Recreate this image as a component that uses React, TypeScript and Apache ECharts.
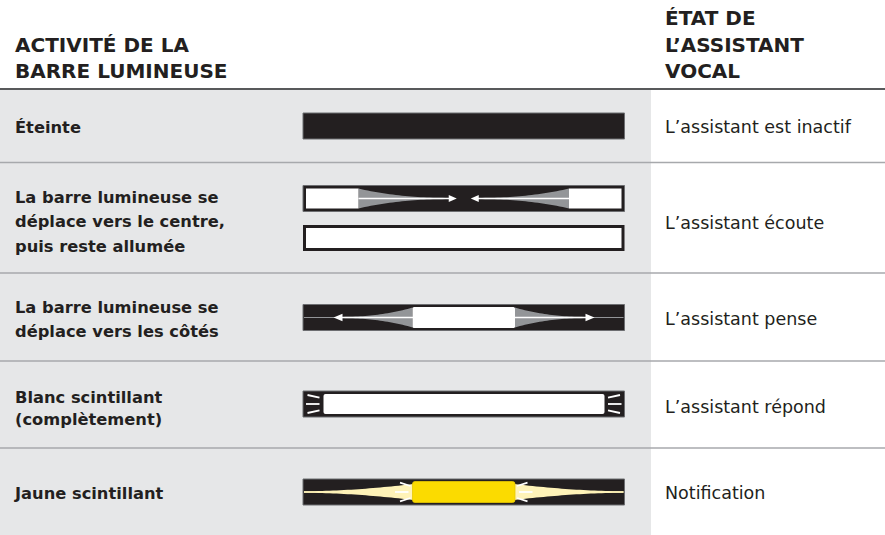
import React, { useEffect, useRef } from "react";
import * as echarts from "echarts";

// ---- Content (table texts) ----
const headerLeft = ["ACTIVITÉ DE LA", "BARRE LUMINEUSE"];
const headerRight = ["ÉTAT DE", "L’ASSISTANT", "VOCAL"];
const activities: string[][] = [
  ["Éteinte"],
  ["La barre lumineuse se", "déplace vers le centre,", "puis reste allumée"],
  ["La barre lumineuse se", "déplace vers les côtés"],
  ["Blanc scintillant", "(complètement)"],
  ["Jaune scintillant"],
];
const states = [
  "L’assistant est inactif",
  "L’assistant écoute",
  "L’assistant pense",
  "L’assistant répond",
  "Notification",
];

// ---- Layout ----
const W = 885;
const H = 535;
const GRAY_RIGHT = 651;
const HEADER_SEP = 89;
const ROW_SEPS = [162.5, 273, 361, 448];
const LEFT_TEXT_CENTERS = [[127], [197, 221.5, 246], [307.5, 331], [397, 419.5], [493]];
const RIGHT_TEXT_CENTERS = [127, 223, 319, 407, 493];
const BX0 = 303;
const BX1 = 624.5;
const BH = 26;

const C_BG = "#e6e7e8";
const C_DARK = "#231f20";
const C_GRAY = "#939598";
const C_YEL = "#fbdb00";
const C_PALE = "#fff3b8";
const FONT = "DejaVu Sans";

function funnel(xs: number, xe: number, cy: number, h0: number, h1: number, p = 2.3, n = 30) {
  const top: number[][] = [];
  const bot: number[][] = [];
  for (let i = 0; i <= n; i++) {
    const t = i / n;
    const x = xs + (xe - xs) * t;
    const h = h1 + (h0 - h1) * Math.pow(1 - t, p);
    top.push([x, cy - h / 2]);
    bot.unshift([x, cy + h / 2]);
  }
  return top.concat(bot);
}

function blackBar(y: number) {
  return {
    type: "rect",
    shape: { x: BX0, y, width: BX1 - BX0, height: BH },
    style: { fill: C_DARK, stroke: "#6d6e71", lineWidth: 1 },
  };
}

function line(x1: number, y1: number, x2: number, y2: number, stroke: string, lw: number) {
  return { type: "line", shape: { x1, y1, x2, y2 }, style: { stroke, lineWidth: lw } };
}

function tri(pts: number[][], fill: string) {
  return { type: "polygon", shape: { points: pts }, style: { fill } };
}

function buildGraphics() {
  const els: any[] = [];
  // backgrounds
  els.push({ type: "rect", shape: { x: 0, y: HEADER_SEP, width: GRAY_RIGHT, height: H - HEADER_SEP }, style: { fill: C_BG } });
  // separators
  els.push(line(0, HEADER_SEP, W, HEADER_SEP, "#58595b", 2));
  ROW_SEPS.forEach((y) => els.push(line(0, y, W, y, "#a7a9ac", 1.5)));

  // header texts
  const hLeftC = [44.5, 70.5];
  headerLeft.forEach((t, i) =>
    els.push({ type: "text", x: 15, y: hLeftC[i], style: { text: t, fill: C_DARK, font: `bold 20px '${FONT}'`, verticalAlign: "middle", align: "left" } })
  );
  const hRightC = [18, 44.5, 70.5];
  headerRight.forEach((t, i) =>
    els.push({ type: "text", x: 665, y: hRightC[i], style: { text: t, fill: C_DARK, font: `bold 20px '${FONT}'`, verticalAlign: "middle", align: "left" } })
  );

  // row texts
  activities.forEach((lines, r) =>
    lines.forEach((t, i) =>
      els.push({ type: "text", x: 15, y: LEFT_TEXT_CENTERS[r][i], style: { text: t, fill: C_DARK, font: `bold 16.3px '${FONT}'`, verticalAlign: "middle", align: "left" } })
    )
  );
  states.forEach((t, r) =>
    els.push({ type: "text", x: 665, y: RIGHT_TEXT_CENTERS[r], style: { text: t, fill: C_DARK, font: `17.5px '${FONT}'`, verticalAlign: "middle", align: "left" } })
  );

  const mid = (BX0 + BX1) / 2;

  // Row 1: off
  els.push(blackBar(113));

  // Row 2a: moving to center
  {
    const y = 185.5;
    const cy = y + BH / 2;
    els.push(blackBar(y));
    els.push({ type: "polygon", shape: { points: funnel(358.5, mid - 12, cy, 20, 1.2) }, style: { fill: C_GRAY } });
    els.push({ type: "polygon", shape: { points: funnel(569, mid + 12, cy, 20, 1.2) }, style: { fill: C_GRAY } });
    els.push({ type: "rect", shape: { x: 306, y: y + 3, width: 52.5, height: BH - 6 }, style: { fill: "#fff" } });
    els.push({ type: "rect", shape: { x: 569, y: y + 3, width: 52.5, height: BH - 6 }, style: { fill: "#fff" } });
    els.push(line(358.5, cy, mid - 13, cy, "#fff", 1.6));
    els.push(line(569, cy, mid + 13, cy, "#fff", 1.6));
    els.push(tri([[mid - 15, cy - 3.6], [mid - 7, cy], [mid - 15, cy + 3.6]], "#fff"));
    els.push(tri([[mid + 15, cy - 3.6], [mid + 7, cy], [mid + 15, cy + 3.6]], "#fff"));
  }
  // Row 2b: stays on
  els.push({ type: "rect", shape: { x: BX0 + 1.5, y: 226.5, width: BX1 - BX0 - 3, height: BH - 3 }, style: { fill: "#fff", stroke: C_DARK, lineWidth: 3 } });

  // Row 3: moving to sides
  {
    const y = 304.5;
    const cy = y + BH / 2;
    els.push(blackBar(y));
    els.push(line(BX0 + 1, cy, BX1 - 1, cy, C_GRAY, 1.2));
    els.push({ type: "polygon", shape: { points: funnel(412.5, 338, cy, 20, 1.2) }, style: { fill: C_GRAY } });
    els.push({ type: "polygon", shape: { points: funnel(515, 589, cy, 20, 1.2) }, style: { fill: C_GRAY } });
    els.push(line(341, cy, 413, cy, "#fff", 1.6));
    els.push(line(515, cy, 587, cy, "#fff", 1.6));
    els.push(tri([[342.5, cy - 3.8], [333.5, cy], [342.5, cy + 3.8]], "#fff"));
    els.push(tri([[585.5, cy - 3.8], [594.5, cy], [585.5, cy + 3.8]], "#fff"));
    els.push({ type: "rect", shape: { x: 412.5, y: y + 2.5, width: 102.5, height: BH - 5, r: 1.5 }, style: { fill: "#fff" } });
  }

  // Row 4: white flashing
  {
    const y = 391;
    const cy = y + BH / 2;
    els.push(blackBar(y));
    els.push({ type: "rect", shape: { x: 323.5, y: y + 3, width: 281, height: BH - 6, r: 2 }, style: { fill: "#fff" } });
    const lw = 1.8;
    els.push(line(307.5, cy - 9, 319.5, cy - 6.3, "#fff", lw));
    els.push(line(306, cy, 319.5, cy, "#fff", lw));
    els.push(line(307.5, cy + 9, 319.5, cy + 6.3, "#fff", lw));
    els.push(line(2 * mid - 307.5, cy - 9, 2 * mid - 319.5, cy - 6.3, "#fff", lw));
    els.push(line(2 * mid - 306, cy, 2 * mid - 319.5, cy, "#fff", lw));
    els.push(line(2 * mid - 307.5, cy + 9, 2 * mid - 319.5, cy + 6.3, "#fff", lw));
  }

  // Row 5: yellow flashing
  {
    const y = 479;
    const cy = y + BH / 2;
    els.push(blackBar(y));
    els.push(line(BX0 + 1, cy, BX1 - 1, cy, C_PALE, 1.4));
    els.push({ type: "polygon", shape: { points: funnel(413, BX0 + 1, cy, 16, 1.5, 1.8) }, style: { fill: C_PALE } });
    els.push({ type: "polygon", shape: { points: funnel(514.5, BX1 - 1, cy, 16, 1.5, 1.8) }, style: { fill: C_PALE } });
    els.push({ type: "rect", shape: { x: 412.5, y: y + 2.5, width: 102.5, height: BH - 5, r: 2.5 }, style: { fill: C_YEL, stroke: "#e9c900", lineWidth: 0.8 } });
    const lw = 1.8;
    els.push(line(400, cy - 9.3, 410.5, cy - 6, "#fff", lw));
    els.push(line(395, cy, 408.5, cy, "#fff", lw));
    els.push(line(400, cy + 9.3, 410.5, cy + 6, "#fff", lw));
    els.push(line(2 * mid - 400, cy - 9.3, 2 * mid - 410.5, cy - 6, "#fff", lw));
    els.push(line(2 * mid - 395, cy, 2 * mid - 408.5, cy, "#fff", lw));
    els.push(line(2 * mid - 400, cy + 9.3, 2 * mid - 410.5, cy + 6, "#fff", lw));
  }

  return els.map((e) => ({ ...e, silent: true }));
}

export default function App() {
  const ref = useRef<HTMLDivElement>(null);
  useEffect(() => {
    if (!ref.current) return;
    const chart = echarts.init(ref.current, null, { renderer: "svg" });
    chart.setOption({
      animation: false,
      backgroundColor: "#ffffff",
      graphic: { elements: buildGraphics() },
    });
    return () => chart.dispose();
  }, []);
  return (
    <div
      ref={ref}
      style={{ position: "fixed", left: 0, top: 0, width: W, height: H, background: "#fff" }}
    />
  );
}
